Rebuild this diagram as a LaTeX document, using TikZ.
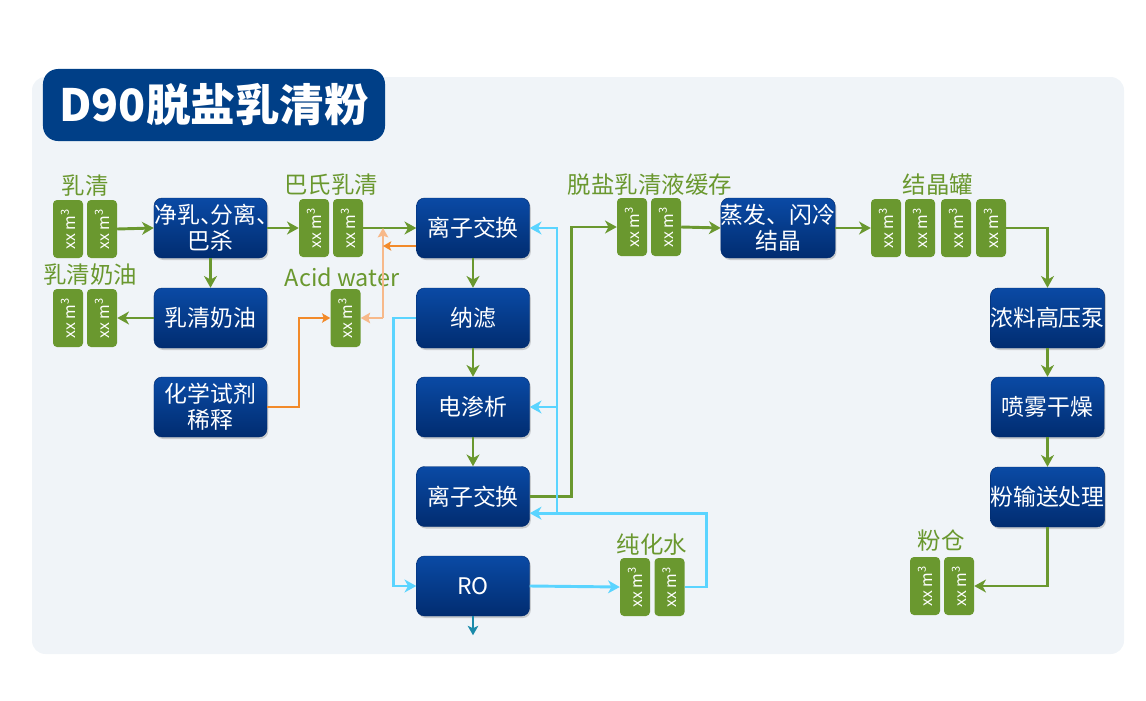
\documentclass[tikz,border=0pt]{standalone}
\usepackage{fontspec}
\setmainfont{Noto Sans CJK SC}
\usepackage{tikz}
\usetikzlibrary{arrows.meta}
\usetikzlibrary{shadows}

\definecolor{bgpanel}{HTML}{F0F4F8}
\definecolor{titleblue}{HTML}{003F87}
\definecolor{boxtop}{HTML}{0A4AA5}
\definecolor{boxbot}{HTML}{012C70}
\definecolor{leafgreen}{HTML}{6A982F}
\definecolor{acidorange}{HTML}{F28A2A}
\definecolor{acidlight}{HTML}{F7B98A}
\definecolor{waterblue}{HTML}{5AD4FF}
\definecolor{drainteal}{HTML}{1A8AAA}

\newcommand{\vol}{\rotatebox{90}{xx m\textsuperscript{3}}}

\begin{document}
\begin{tikzpicture}[x=0.03cm,y=-0.03cm,
    proc/.style={rectangle,rounded corners=0.24cm,minimum width=3.39cm,minimum height=1.8cm,
        top color=boxtop,bottom color=boxbot,draw=boxbot,text=white,align=center,
        font=\fontsize{19.5}{22}\selectfont,inner sep=0pt,
        drop shadow={shadow xshift=0.04cm,shadow yshift=-0.06cm,opacity=0.35}},
    tank/.style={rectangle,rounded corners=0.12cm,minimum width=0.9cm,minimum height=1.74cm,
        fill=leafgreen,text=white,inner sep=0pt,font=\fontsize{13.5}{15}\selectfont},
    tag/.style={text=leafgreen,font=\fontsize{20}{22}\selectfont,inner sep=0pt},
    flow/.style={draw=leafgreen,line width=2.5pt,-{Stealth[length=10pt,width=11pt,inset=3pt]}},
    acid/.style={draw=acidorange,line width=1.7pt,-{Stealth[length=7pt,width=8pt,inset=1.5pt]}},
    acidpale/.style={draw=acidlight,line width=2.5pt,-{Stealth[length=8pt,width=9pt,inset=1.5pt]}},
    water/.style={draw=waterblue,line width=2.5pt,-{Stealth[length=10pt,width=11pt,inset=3pt]}}]
        \useasboundingbox (0,0) rectangle (1146,701);
        % panel and title
        \fill[bgpanel,rounded corners=0.4cm](32,77) rectangle (1124,654);
        \node[rectangle,rounded corners=0.45cm,fill=titleblue,text=white,minimum width=10.26cm,
            minimum height=2.16cm,font=\fontsize{38}{42}\selectfont\bfseries] (title) at (214,105) {D90脱盐乳清粉};
        % tanks
        \node[tank] (t1a) at (68,229) {\vol};
        \node[tank] (t1b) at (102,229) {\vol};
        \node[tank] (c1a) at (68,318) {\vol};
        \node[tank] (c1b) at (102,318) {\vol};
        \node[tank] (p1a) at (314,228) {\vol};
        \node[tank] (p1b) at (348,228) {\vol};
        \node[tank] (a1) at (345.5,318) {\vol};
        \node[tank] (b1a) at (632,227) {\vol};
        \node[tank] (b1b) at (666,227) {\vol};
        \node[tank] (k1) at (886,228) {\vol};
        \node[tank] (k2) at (920,228) {\vol};
        \node[tank] (k3) at (956,228) {\vol};
        \node[tank] (k4) at (991,228) {\vol};
        \node[tank] (s1a) at (925,586) {\vol};
        \node[tank] (s1b) at (959,586) {\vol};
        \node[tank] (w1a) at (635,587) {\vol};
        \node[tank] (w1b) at (669.5,587) {\vol};
        % tank labels
        \node[tag] (l1) at (85,186) {乳清};
        \node[tag] (l2) at (90,275) {乳清奶油};
        \node[tag] (l3) at (331,185) {巴氏乳清};
        \node[tag] (l4) at (342,277) {Acid water};
        \node[tag] (l5) at (650,185) {脱盐乳清液缓存};
        \node[tag] (l6) at (938,185) {结晶罐};
        \node[tag] (l7) at (941,541) {粉仓};
        \node[tag] (l8) at (652,545) {纯化水};
        % process boxes
        \node[proc] (clean) at (210.5,228) {净乳、\kern-0.55em分离、\kern-0.55em\\巴杀};
        \node[proc] (cream) at (210.5,318) {乳清奶油};
        \node[proc] (chem) at (210.5,407) {化学试剂\\稀释};
        \node[proc] (ix1) at (473,228) {离子交换};
        \node[proc] (nf) at (473,318) {纳滤};
        \node[proc] (ed) at (473,407) {电渗析};
        \node[proc] (ix2) at (473,496.5) {离子交换};
        \node[proc] (ro) at (473,586) {RO};
        \node[proc] (evap) at (778,228) {蒸发、闪冷\\结晶};
        \node[proc] (pump) at (1047.5,318) {浓料高压泵};
        \node[proc] (spray) at (1047.5,407) {喷雾干燥};
        \node[proc] (convey) at (1047.5,497) {粉输送处理};
        % product line
        \draw[flow](t1b.east)--(clean.west);
        \draw[flow](clean.east)--(p1a.west);
        \draw[flow](p1b.east)--(ix1.west);
        \draw[flow](clean.south)--(cream.north);
        \draw[flow](cream.west)--(c1b.east);
        \draw[flow](ix1.south)--(nf.north);
        \draw[flow](nf.south)--(ed.north);
        \draw[flow](ed.south)--(ix2.north);
        \draw[flow](ix2.east)--++(42,0)|-(b1a.west);
        \draw[flow](b1b.east)--(evap.west);
        \draw[flow](evap.east)--(k1.west);
        \draw[flow](k4.east)-|(pump.north);
        \draw[flow](pump.south)--(spray.north);
        \draw[flow](spray.south)--(convey.north);
        \draw[flow](convey.south)|-(s1b.east);
        % acid water
        \coordinate (jn) at (383,318);
        \draw[acid](chem.east)--++(32,0)|-(a1.west);
        \draw[acidpale](jn)--(jn|-p1b.east);
        \draw[acidpale](jn)--(a1.east);
        \draw[acid]([yshift=-0.54cm]ix1.west)--([yshift=-0.54cm]ix1.west-|jn);
        % water loop
        \coordinate (cj) at (557,513);
        \draw[water](nf.west)--++(-23,0)|-(ro.west);
        \draw[water](ro.east)--(w1a.west);
        \draw[water](w1b.east)--++(22,0)|-([yshift=-0.5cm]ix2.east);
        \draw[water](cj)|-(ix1.east);
        \draw[water](cj|-ed.east)--(ed.east);
        \draw[draw=drainteal,line width=2.5pt,-{Stealth[length=8pt,width=9pt,inset=2pt]}](ro.south)--++(0,19);
    \end{tikzpicture}
\end{document}
